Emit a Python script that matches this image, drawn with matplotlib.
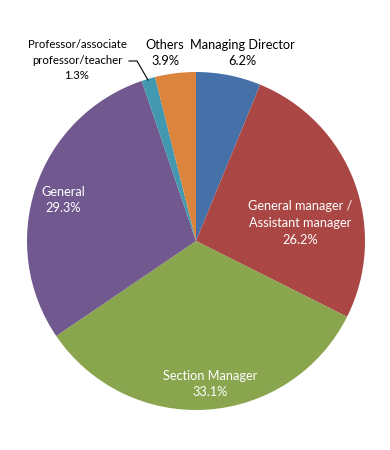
import matplotlib
matplotlib.use("Agg")
import matplotlib.pyplot as plt

# slice data, clockwise from 12 o'clock
labels = ["Managing Director", "General manager /\nAssistant manager", "Section Manager",
          "General", "Professor/associate\nprofessor/teacher", "Others"]
values = [6.2, 26.2, 33.1, 29.3, 1.3, 3.9]
colors = ["#4671A8", "#AA4643", "#89A54E", "#71588F", "#4198AF", "#DB843D"]

plt.rcParams['font.family'] = ['Lato', 'DejaVu Sans']

fig = plt.figure(figsize=(3.9, 4.5), dpi=100)
# pie centre at about (196, 241) px, radius about 169 px
cx, cy, r = 196, 241, 169
ax = fig.add_axes([(cx - r) / 390, (450 - cy - r) / 450, 2 * r / 390, 2 * r / 450])
ax.pie(values, colors=colors, startangle=90, counterclock=False,
       wedgeprops=dict(linewidth=0))
ax.set_xlim(-1, 1)
ax.set_ylim(-1, 1)
ax.set_aspect('equal')
ax.axis('off')


def px(x, y):
    return (x - cx) / r, (cy - y) / r


# label placement (pixel positions of label centres)
spots = [(242, 53, 'k', 9.2), (300, 223, 'w', 9.2), (210, 384, 'w', 9.2),
         (63, 200, 'w', 9.2), (77, 60, 'k', 8.2), (165, 53, 'k', 9.2)]
for lab, v, (x, y, c, fs) in zip(labels, values, spots):
    tx, ty = px(x, y)
    ax.text(tx, ty, f"{lab}\n{v:.1f}%", ha='center', va='center', color=c,
            fontsize=fs, linespacing=1.45, clip_on=False)

# leader line for the small slice
x0, y0 = px(129, 61)
x1, y1 = px(148, 80)
xm, _ = px(137, 61)
ax.plot([x0, xm, x1], [y0, y0, y1], color='k', lw=0.8, clip_on=False)

fig.savefig("out.png", dpi=100)
